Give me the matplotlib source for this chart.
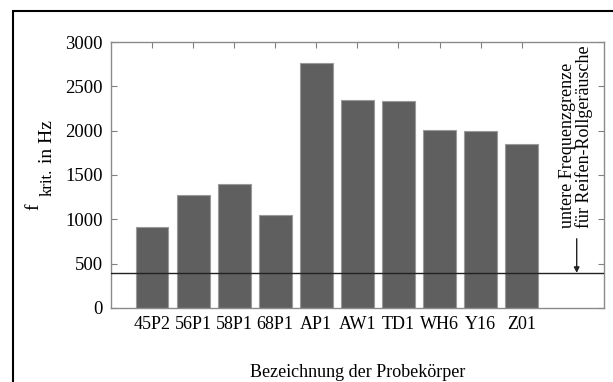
import numpy as np
import matplotlib
matplotlib.use('Agg')
import matplotlib.pyplot as plt
from matplotlib.patches import Rectangle

# Probekoerper und kritische Frequenzen
proben = ['45P2', '56P1', '58P1', '68P1', 'AP1', 'AW1', 'TD1', 'WH6', 'Y16', 'Z01']
f_krit = [910, 1275, 1395, 1045, 2765, 2345, 2330, 2010, 1995, 1850]
f_grenze = 395  # untere Frequenzgrenze fuer Reifen-Rollgeraeusche

plt.rcParams['font.family'] = 'Liberation Serif'

W, H = 613, 382
fig = plt.figure(figsize=(W / 100, H / 100), dpi=100)
ax = fig.add_axes([0.181, 0.194, 0.804, 0.696])

x = np.arange(1, len(proben) + 1)
ax.bar(x, f_krit, width=0.8, color='#5f5f5f', edgecolor='#9a9a9a', linewidth=0.8, zorder=2)
ax.axhline(f_grenze, color='#222222', linewidth=1.0, zorder=3)

ax.set_xlim(0, 12)
ax.set_ylim(0, 3000)
ax.set_xticks(x)
ax.set_xticklabels(proben)
ax.set_yticks(np.arange(0, 3001, 500))
ax.tick_params(direction='in', top=True, right=True, length=4, width=0.8,
               color='#808080', pad=6)
ax.tick_params(axis='x', labelsize=13)
ax.tick_params(axis='y', labelsize=13.5)
for s in ax.spines.values():
    s.set_color('#8a8a8a')
    s.set_linewidth(1.0)

ax.set_xlabel('Bezeichnung der Probekörper', fontsize=13, labelpad=22)

# y-Beschriftung: f mit tiefgestelltem "krit."
ykw = dict(rotation=90, rotation_mode='anchor', ha='left', va='baseline')
fig.text(38 / W, 172 / H, 'f', fontsize=14, **ykw)
fig.text(52 / W, 186 / H, 'krit.', fontsize=12, **ykw)
fig.text(52 / W, 219 / H, 'in Hz', fontsize=14, **ykw)

# Pfeil und Beschriftung der Frequenzgrenze
ax.annotate('', xy=(11.34, f_grenze), xytext=(11.34, 780),
            arrowprops=dict(arrowstyle='-|>', color='#222222', lw=1.0,
                            mutation_scale=8, shrinkA=0, shrinkB=0))
ax.text(11.32, 905, 'untere Frequenzgrenze\nfür Reifen-Rollgeräusche',
        rotation=90, ha='center', va='bottom', multialignment='left',
        fontsize=13, linespacing=0.95)

# Rahmen um die Abbildung
fig.patches.append(Rectangle((13 / W, -0.1), 1.2, 1 - 11 / H + 0.1,
                             transform=fig.transFigure, fill=False,
                             edgecolor='black', linewidth=1.5))

fig.savefig('out.png', dpi=100)
